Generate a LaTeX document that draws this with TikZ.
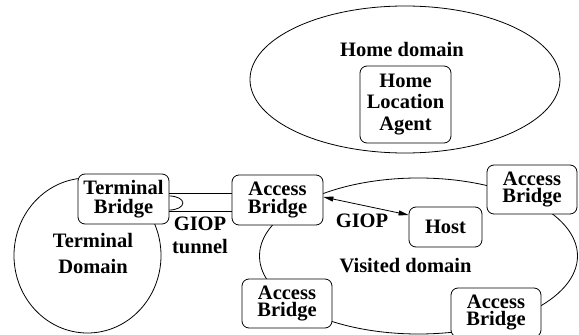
\documentclass[tikz,border=0pt]{standalone}
\usepackage{fontspec}
\setmainfont{Liberation Serif}
\usetikzlibrary{arrows.meta,shapes.geometric}
\tikzset{
  every picture/.style={x=1pt,y=1pt,line width=0.8pt},
  domainshape/.style={draw,ellipse,inner sep=0pt},
  bridgebox/.style={draw,fill=white,rounded corners=7pt,align=center,inner sep=0pt,
    font=\fontsize{20.5}{17.5}\selectfont\bfseries},
  lbltext/.style={align=center,inner sep=0pt,font=\fontsize{20.5}{24}\selectfont\bfseries},
  giop/.style={{Triangle[length=10pt,width=5pt]}-{Triangle[length=10pt,width=5pt]}},
}
\begin{document}
\begin{tikzpicture}
\useasboundingbox (0,0) rectangle (579,335);

% domains
\node[domainshape,minimum width=310pt,minimum height=147pt] (home) at (405,255.5) {};
\node[domainshape,minimum width=147pt,minimum height=155pt] (term) at (87.5,79.5) {};
\node[domainshape,minimum width=318pt,minimum height=156pt] (visited) at (418.5,79) {};

% domain labels
\node[lbltext,anchor=base] (homelbl) at (402,278) {Home domain};
\node[lbltext,font=\fontsize{20.5}{26}\selectfont\bfseries] (termlbl) at (93,82) {Terminal\\Domain};
\node[lbltext,anchor=base] (vislbl) at (405.5,62) {Visited domain};

% boxes
\node[bridgebox,minimum width=91pt,minimum height=77pt,
  font=\fontsize{20.5}{21.5}\selectfont\bfseries] (hla) at (405.5,230.5) {Home\\Location\\Agent};
\node[bridgebox,minimum width=91pt,minimum height=50pt,
  font=\fontsize{20.5}{19}\selectfont\bfseries] (tb) at (123.5,136) {Terminal\\Bridge};
\node[bridgebox,minimum width=91pt,minimum height=50pt] (ab1) at (277.5,135) {Access\\Bridge};
\node[bridgebox,minimum width=90pt,minimum height=49pt] (ab2) at (532,145.5) {Access\\Bridge};
\node[bridgebox,minimum width=90pt,minimum height=49pt] (ab3) at (287,31.5) {Access\\Bridge};
\node[bridgebox,minimum width=90pt,minimum height=49pt] (ab4) at (496,22.5) {Access\\Bridge};
\node[bridgebox,minimum width=73pt,minimum height=40pt] (host) at (445.5,108) {Host};

% GIOP tunnel between terminal bridge and access bridge
\draw ([yshift=6pt]tb.east) -- ([yshift=6pt]tb.east -| ab1.west);
\draw ([yshift=-12pt]tb.east) -- ([yshift=-12pt]tb.east -| ab1.west);
\draw ([yshift=3pt]tb.east) arc[start angle=90,end angle=-90,x radius=13.5pt,y radius=7pt];
\node[lbltext,font=\fontsize{20.5}{23}\selectfont\bfseries] (tunnellbl) at (200,100) {GIOP\\tunnel};

% GIOP connection to host
\draw[giop] ([yshift=3pt]ab1.east) -- ([yshift=12pt]host.west);
\node[lbltext,anchor=base] (giophost) at (362,107) {GIOP};
\end{tikzpicture}
\end{document}
